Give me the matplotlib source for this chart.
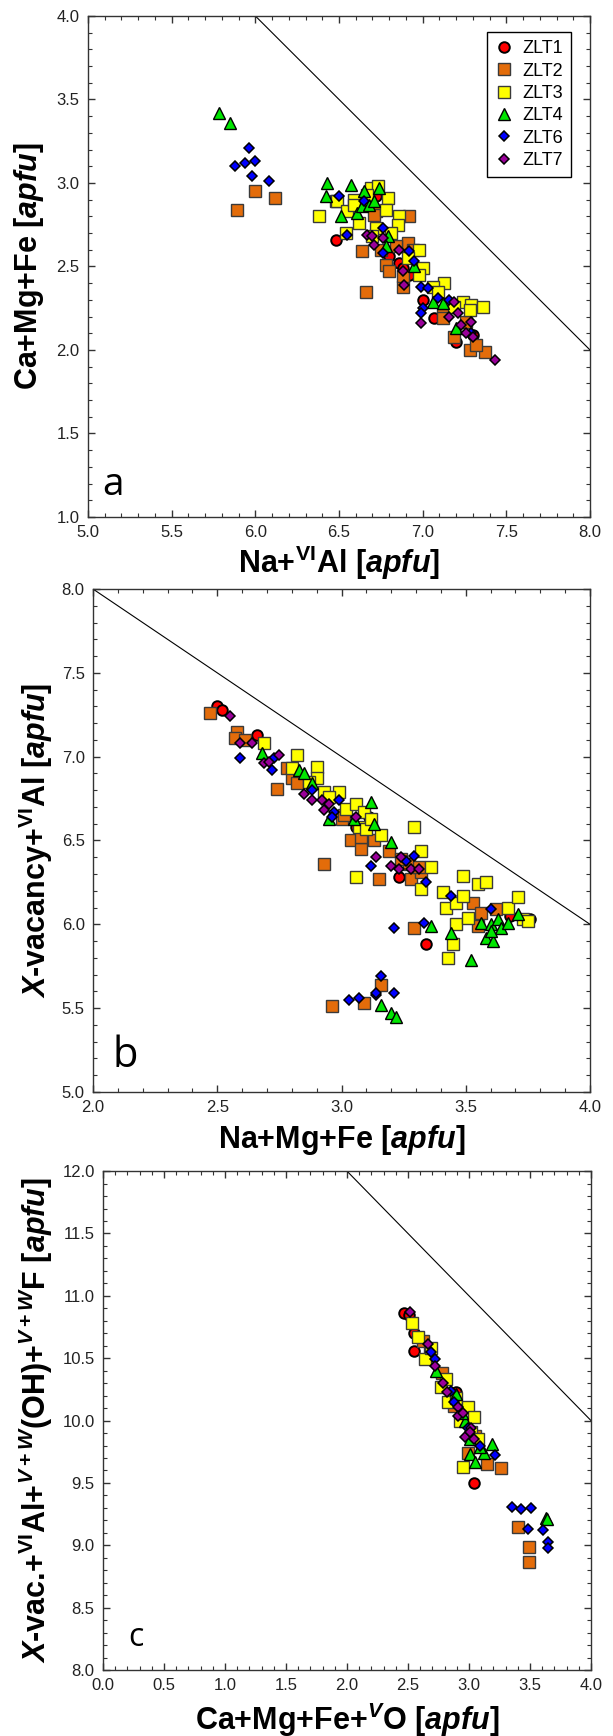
import matplotlib
matplotlib.use("Agg")
import matplotlib.pyplot as plt
from matplotlib.ticker import MultipleLocator, FormatStrFormatter

plt.rcParams['font.family'] = ['Liberation Sans', 'DejaVu Sans']
plt.rcParams['mathtext.fontset'] = 'custom'
plt.rcParams['mathtext.rm'] = 'Liberation Sans:bold'
plt.rcParams['mathtext.it'] = 'Liberation Sans:italic:bold'
plt.rcParams['mathtext.bf'] = 'Liberation Sans:bold'

samples = ['ZLT1', 'ZLT2', 'ZLT3', 'ZLT4', 'ZLT6', 'ZLT7']

# --- panel a: Na+VIAl vs Ca+Mg+Fe ---
a_zlt1_x = [6.48, 6.86, 7.00, 7.07, 7.20, 6.72, 6.92, 7.30, 6.80, 6.88]
a_zlt1_y = [2.66, 2.52, 2.30, 2.19, 2.05, 2.92, 2.45, 2.09, 2.56, 2.49]
a_zlt2_x = [5.89, 6.00, 6.12, 6.66, 6.64, 6.92, 6.91, 6.78, 6.80, 6.88, 6.88, 7.28,
            7.37, 7.32, 7.12, 7.12, 7.19, 6.72, 6.71, 6.48, 6.75, 6.84, 6.94, 7.26]
a_zlt2_y = [2.84, 2.95, 2.91, 2.35, 2.59, 2.80, 2.64, 2.51, 2.47, 2.38, 2.44, 2.00,
            1.99, 2.03, 2.21, 2.19, 2.08, 2.83, 2.81, 2.89, 2.60, 2.62, 2.60, 2.17]
a_zlt3_x = [6.38, 6.49, 6.55, 6.59, 6.59, 6.62, 6.69, 6.73, 6.79, 6.78, 6.86, 6.85,
            6.72, 6.70, 6.81, 6.98, 7.00, 6.98, 7.13, 7.06, 7.09, 7.24, 7.29, 7.36,
            7.28, 7.19, 6.54, 6.91, 6.67]
a_zlt3_y = [2.80, 2.89, 2.83, 2.90, 2.87, 2.76, 2.97, 2.98, 2.91, 2.84, 2.80, 2.75,
            2.73, 2.68, 2.70, 2.60, 2.49, 2.45, 2.40, 2.38, 2.35, 2.29, 2.27, 2.26,
            2.24, 2.26, 2.70, 2.55, 2.93]
a_zlt4_x = [5.78, 5.85, 6.43, 6.57, 6.42, 6.51, 6.61, 6.65, 6.74, 6.64, 6.68, 6.71,
            6.79, 6.95, 7.06, 7.12, 7.20, 6.78]
a_zlt4_y = [3.42, 3.36, 3.00, 2.99, 2.92, 2.80, 2.82, 2.95, 2.97, 2.86, 2.87, 2.89,
            2.68, 2.50, 2.29, 2.28, 2.13, 2.62]
a_zlt6_x = [5.96, 5.88, 5.94, 6.00, 5.98, 6.08, 6.50, 6.65, 6.55, 6.76, 6.76, 6.92,
            6.95, 6.99, 7.03, 7.00, 6.99, 7.09, 7.16, 7.29]
a_zlt6_y = [3.21, 3.10, 3.12, 3.13, 3.04, 3.01, 2.92, 2.89, 2.69, 2.73, 2.58, 2.59,
            2.53, 2.38, 2.37, 2.25, 2.22, 2.31, 2.30, 2.10]
a_zlt7_x = [6.67, 6.70, 6.71, 6.76, 6.86, 6.88, 6.89, 6.99, 7.16, 7.19, 7.21, 7.23,
            7.26, 7.29, 7.30, 7.43]
a_zlt7_y = [2.69, 2.68, 2.63, 2.67, 2.60, 2.47, 2.39, 2.16, 2.20, 2.29, 2.22, 2.15,
            2.10, 2.17, 2.08, 1.94]

# --- panel b: Na+Mg+Fe vs X-vacancy+VIAl ---
b_zlt1_x = [2.50, 2.52, 2.66, 3.11, 3.23, 3.34, 3.68, 3.76, 2.85, 3.06]
b_zlt1_y = [7.30, 7.28, 7.13, 6.64, 6.28, 5.88, 6.05, 6.03, 6.85, 6.58]
b_zlt2_x = [2.47, 2.58, 2.57, 2.61, 2.74, 2.78, 2.80, 2.82, 2.93, 3.00, 3.01, 3.04,
            3.08, 3.08, 3.13, 3.15, 3.19, 3.28, 3.32, 3.29, 2.96, 3.09, 3.16, 3.53,
            3.56, 3.55, 3.62, 3.27, 3.24, 3.31]
b_zlt2_y = [7.26, 7.15, 7.11, 7.10, 6.81, 6.93, 6.87, 6.84, 6.36, 6.63, 6.65, 6.50,
            6.45, 6.52, 6.50, 6.27, 6.44, 6.27, 6.31, 5.98, 5.51, 5.53, 5.64, 6.13,
            6.07, 5.99, 6.09, 6.36, 6.39, 6.34]
b_zlt3_x = [2.69, 2.82, 2.80, 2.90, 2.90, 2.93, 2.99, 3.02, 3.06, 3.09, 3.07, 3.10,
            3.16, 3.06, 3.29, 3.32, 3.36, 3.32, 3.41, 3.42, 3.46, 3.49, 3.49, 3.55,
            3.58, 3.46, 3.51, 3.45, 3.43, 3.67, 3.71, 3.73, 3.75, 2.87, 2.95, 3.12]
b_zlt3_y = [7.08, 7.01, 6.93, 6.94, 6.87, 6.79, 6.79, 6.69, 6.72, 6.67, 6.58, 6.57,
            6.53, 6.28, 6.58, 6.44, 6.34, 6.21, 6.19, 6.10, 6.13, 6.17, 6.29, 6.24,
            6.25, 6.00, 6.04, 5.88, 5.80, 6.10, 6.16, 6.03, 6.02, 6.85, 6.76, 6.63]
b_zlt4_x = [2.68, 2.83, 2.85, 2.88, 2.95, 3.05, 3.12, 3.13, 3.20, 3.16, 3.20, 3.22,
            3.36, 3.44, 3.52, 3.56, 3.58, 3.60, 3.61, 3.63, 3.64, 3.67, 3.71, 3.60]
b_zlt4_y = [7.02, 6.92, 6.90, 6.84, 6.63, 6.63, 6.73, 6.60, 6.49, 5.52, 5.47, 5.45,
            5.99, 5.95, 5.79, 6.01, 5.92, 6.00, 5.90, 6.03, 5.98, 6.01, 6.06, 5.96]
b_zlt6_x = [2.59, 2.72, 2.73, 2.88, 2.99, 2.97, 2.96, 3.12, 3.26, 3.29, 3.34, 3.44,
            3.60, 3.21, 3.33, 3.03, 3.07, 3.14, 3.16, 3.21, 3.14]
b_zlt6_y = [6.99, 6.92, 6.99, 6.80, 6.74, 6.67, 6.64, 6.35, 6.38, 6.41, 6.25, 6.17,
            6.09, 5.98, 6.01, 5.55, 5.56, 5.58, 5.69, 5.59, 5.59]
b_zlt7_x = [2.55, 2.59, 2.64, 2.69, 2.75, 2.71, 2.85, 2.88, 2.92, 2.95, 2.93, 3.06,
            3.14, 3.20, 3.23, 3.24, 3.28, 3.31]
b_zlt7_y = [7.24, 7.08, 7.08, 6.96, 7.01, 6.97, 6.78, 6.74, 6.74, 6.72, 6.68, 6.64,
            6.40, 6.35, 6.33, 6.40, 6.33, 6.33]

# --- panel c: Ca+Mg+Fe+VO vs X-vac.+VIAl+(OH)+F ---
c_zlt1_x = [2.47, 2.55, 3.04, 2.55, 2.89, 2.51]
c_zlt1_y = [10.86, 10.56, 9.50, 10.70, 10.23, 10.85]
c_zlt2_x = [2.62, 2.68, 2.78, 2.99, 3.15, 3.26, 3.40, 3.49, 3.49, 3.05, 2.88]
c_zlt2_y = [10.64, 10.55, 10.38, 9.74, 9.65, 9.62, 9.15, 8.99, 8.87, 9.88, 10.12]
c_zlt3_x = [2.53, 2.58, 2.64, 2.69, 2.77, 2.83, 2.89, 2.99, 3.04, 2.95, 2.81, 2.93,
            3.02, 3.07]
c_zlt3_y = [10.78, 10.67, 10.49, 10.58, 10.27, 10.15, 10.18, 10.11, 10.03, 9.63,
            10.33, 10.00, 9.91, 9.85]
c_zlt4_x = [2.73, 2.89, 2.97, 3.01, 3.05, 3.12, 3.19, 3.09, 3.63, 3.64, 2.94, 3.01]
c_zlt4_y = [10.40, 10.21, 10.00, 9.73, 9.67, 9.74, 9.81, 9.79, 9.22, 9.21, 10.06, 9.85]
c_zlt6_x = [2.69, 2.72, 2.85, 2.88, 3.09, 3.21, 3.35, 3.43, 3.51, 3.48, 3.61, 3.65,
            3.65, 2.99]
c_zlt6_y = [10.55, 10.49, 10.24, 10.15, 9.80, 9.72, 9.31, 9.29, 9.30, 9.13, 9.12,
            9.03, 8.98, 9.94]
c_zlt7_x = [2.52, 2.66, 2.72, 2.79, 2.82, 2.91, 2.91, 2.95, 3.02, 2.97, 3.04, 3.01]
c_zlt7_y = [10.87, 10.61, 10.44, 10.30, 10.23, 10.11, 10.04, 10.06, 9.94, 9.87,
            9.85, 9.91]

# marker, face, edge, size, edge width
marker_styles = {
    'ZLT1': ('o', '#ff0000', '#000000', 7.6, 1.4),
    'ZLT2': ('s', '#e36c0a', '#3a3a3a', 8.2, 1.0),
    'ZLT3': ('s', '#ffff00', '#3a3a3a', 8.2, 1.0),
    'ZLT4': ('^', '#00e600', '#000000', 8.4, 1.0),
    'ZLT6': ('D', '#0000ff', '#000000', 5.6, 1.1),
    'ZLT7': ('D', '#990099', '#000000', 5.6, 1.1),
}

fig = plt.figure(figsize=(6.13, 17.36), dpi=100)

ax_a = fig.add_axes([0.1436, 0.7022, 0.8189, 0.2886])
ax_b = fig.add_axes([0.1517, 0.3710, 0.8108, 0.2897])
ax_c = fig.add_axes([0.1680, 0.0380, 0.7961, 0.2874])

panels = [
    (ax_a, [(a_zlt1_x, a_zlt1_y), (a_zlt2_x, a_zlt2_y), (a_zlt3_x, a_zlt3_y),
            (a_zlt4_x, a_zlt4_y), (a_zlt6_x, a_zlt6_y), (a_zlt7_x, a_zlt7_y)],
     (5.0, 8.0), (1.0, 4.0), ([6.0, 8.0], [4.0, 2.0]),
     r'Na+$^{\mathrm{VI}}$Al [$apfu$]', r'Ca+Mg+Fe [$apfu$]',
     'a', 28, (0.028, 0.044), -0.1175, -0.092),
    (ax_b, [(b_zlt1_x, b_zlt1_y), (b_zlt2_x, b_zlt2_y), (b_zlt3_x, b_zlt3_y),
            (b_zlt4_x, b_zlt4_y), (b_zlt6_x, b_zlt6_y), (b_zlt7_x, b_zlt7_y)],
     (2.0, 4.0), (5.0, 8.0), ([2.0, 4.0], [8.0, 6.0]),
     r'Na+Mg+Fe [$apfu$]', r'$X$-vacancy+$^{\mathrm{VI}}$Al [$apfu$]',
     'b', 30, (0.040, 0.050), -0.1147, -0.095),
    (ax_c, [(c_zlt1_x, c_zlt1_y), (c_zlt2_x, c_zlt2_y), (c_zlt3_x, c_zlt3_y),
            (c_zlt4_x, c_zlt4_y), (c_zlt6_x, c_zlt6_y), (c_zlt7_x, c_zlt7_y)],
     (0.0, 4.0), (8.0, 12.0), ([2.0, 4.0], [12.0, 10.0]),
     r'Ca+Mg+Fe+$^{V}$O [$apfu$]',
     r'$X$-vac.+$^{\mathrm{VI}}$Al+$^{V+W}$(OH)+$^{V+W}$F [$apfu$]',
     'c', 23, (0.051, 0.048), -0.137, -0.100),
]

for (ax, series, xlim, ylim, limit_line, xlab, ylab,
     letter, lsize, lpos, ylx, xly) in panels:
    handles = []
    for name, (xs, ys) in zip(samples, series):
        mk, fc, ec, ms, mew = marker_styles[name]
        h, = ax.plot(xs, ys, ls='none', marker=mk, ms=ms, mfc=fc, mec=ec,
                     mew=mew, label=name)
        handles.append(h)
    # stoichiometric limit
    ax.plot(limit_line[0], limit_line[1], color='black', lw=0.8)

    ax.set_xlim(*xlim)
    ax.set_ylim(*ylim)
    ax.xaxis.set_major_locator(MultipleLocator(0.5))
    ax.xaxis.set_minor_locator(MultipleLocator(0.1))
    ax.yaxis.set_major_locator(MultipleLocator(0.5))
    ax.yaxis.set_minor_locator(MultipleLocator(0.1))
    ax.xaxis.set_major_formatter(FormatStrFormatter('%.1f'))
    ax.yaxis.set_major_formatter(FormatStrFormatter('%.1f'))
    ax.tick_params(which='both', direction='in', top=True, right=True,
                   color='#333333', labelsize=12, labelcolor='#222222')
    ax.tick_params(which='major', length=5, width=1, pad=6)
    ax.tick_params(which='minor', length=3, width=0.8)
    for sp in ax.spines.values():
        sp.set_color('#333333')
        sp.set_linewidth(1.0)

    ax.set_xlabel(xlab, fontsize=22, fontweight='bold')
    ax.set_ylabel(ylab, fontsize=22, fontweight='bold')
    ax.xaxis.set_label_coords(0.5, xly)
    ax.xaxis.label.set_va('center')
    ax.yaxis.set_label_coords(ylx, 0.5)
    ax.yaxis.label.set_va('center')

    ax.text(lpos[0], lpos[1], letter, transform=ax.transAxes, fontsize=lsize,
            family='Open Sans', ha='left', va='baseline')

    if ax is ax_a:
        leg = ax.legend(handles=handles, loc='upper right',
                        bbox_to_anchor=(0.962, 0.968), borderaxespad=0,
                        fontsize=13, handlelength=1.0, handletextpad=0.5,
                        labelspacing=0.3, borderpad=0.45, fancybox=False,
                        framealpha=1, edgecolor='black')
        leg.get_frame().set_linewidth(1.0)

fig.savefig('out.png', dpi=100)
